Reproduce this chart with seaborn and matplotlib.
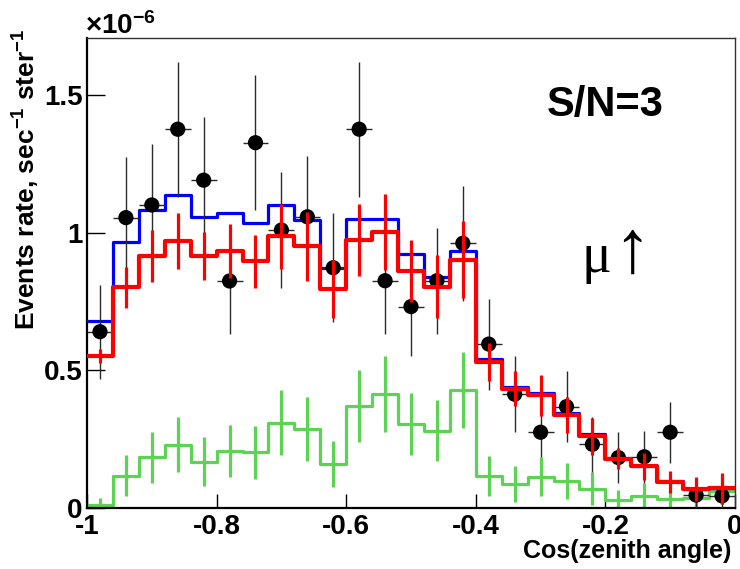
import numpy as np
import pandas as pd
import seaborn as sns
import matplotlib
matplotlib.use("Agg")
import matplotlib.pyplot as plt

# bins in cos(zenith), 25 bins of 0.04 from -1 to 0
bin_edges = [-1.0, -0.96, -0.92, -0.88, -0.84, -0.80, -0.76, -0.72, -0.68, -0.64,
             -0.60, -0.56, -0.52, -0.48, -0.44, -0.40, -0.36, -0.32, -0.28, -0.24,
             -0.20, -0.16, -0.12, -0.08, -0.04, 0.0]
bin_centers = [-0.98, -0.94, -0.90, -0.86, -0.82, -0.78, -0.74, -0.70, -0.66, -0.62,
               -0.58, -0.54, -0.50, -0.46, -0.42, -0.38, -0.34, -0.30, -0.26, -0.22,
               -0.18, -0.14, -0.10, -0.06, -0.02]

# event rates in units of 1e-6 sec^-1 ster^-1
data_rate = [0.64, 1.054, 1.10, 1.375, 1.19, 0.824, 1.326, 1.009, 1.057, 0.872,
             1.375, 0.825, 0.731, 0.825, 0.961, 0.595, 0.413, 0.275, 0.368, 0.231,
             0.183, 0.186, 0.275, 0.047, 0.044]
data_err = [0.17, 0.22, 0.22, 0.245, 0.23, 0.194, 0.245, 0.21, 0.22, 0.198,
            0.245, 0.194, 0.179, 0.193, 0.208, 0.165, 0.138, 0.09, 0.13, 0.10,
            0.094, 0.094, 0.111, 0.05, 0.05]

blue_rate = [0.679, 0.967, 1.081, 1.137, 1.056, 1.069, 1.033, 1.10, 1.047, 0.872,
             1.048, 1.048, 0.923, 0.838, 0.933, 0.541, 0.44, 0.419, 0.344, 0.268,
             0.181, 0.153, 0.098, 0.07, 0.072]

red_rate = [0.552, 0.801, 0.915, 0.970, 0.915, 0.934, 0.895, 0.987, 0.95, 0.795,
            0.973, 1.002, 0.86, 0.803, 0.902, 0.53, 0.433, 0.409, 0.338, 0.26,
            0.179, 0.151, 0.096, 0.069, 0.071]
red_err = [0.024, 0.074, 0.093, 0.101, 0.088, 0.098, 0.097, 0.118, 0.125, 0.105,
           0.13, 0.138, 0.113, 0.114, 0.139, 0.07, 0.064, 0.074, 0.065, 0.067,
           0.038, 0.048, 0.04, 0.045, 0.056]

green_rate = [0.011, 0.117, 0.184, 0.229, 0.168, 0.207, 0.202, 0.31, 0.286, 0.16,
              0.37, 0.414, 0.305, 0.281, 0.428, 0.117, 0.087, 0.114, 0.099, 0.07,
              0.028, 0.042, 0.032, 0.037, 0.063]
green_err = [0.025, 0.075, 0.093, 0.10, 0.088, 0.094, 0.097, 0.119, 0.116, 0.083,
             0.13, 0.138, 0.113, 0.111, 0.139, 0.073, 0.065, 0.07, 0.066, 0.06,
             0.036, 0.048, 0.03, 0.04, 0.05]

x_ticks = [-1.0, -0.8, -0.6, -0.4, -0.2, 0.0]
x_ticklabels = ["-1", "-0.8", "-0.6", "-0.4", "-0.2", "0"]
y_ticks = [0.0, 0.5, 1.0, 1.5]
y_ticklabels = ["0", "0.5", "1", "1.5"]

BLUE = "#0000ff"
RED = "#ff0000"
GREEN = "#5cd352"
GREY = "#2a2a2a"

df = pd.DataFrame({
    "cos": bin_centers,
    "data": data_rate, "data_err": data_err,
    "blue": blue_rate,
    "red": red_rate, "red_err": red_err,
    "green": green_rate, "green_err": green_err,
})

sns.set_theme(style="ticks")
plt.rcParams["font.family"] = ["Liberation Sans", "DejaVu Sans"]
plt.rcParams["font.weight"] = "bold"
plt.rcParams["text.color"] = "black"
plt.rcParams["axes.labelcolor"] = "black"
plt.rcParams["xtick.color"] = "black"
plt.rcParams["ytick.color"] = "black"
plt.rcParams["axes.unicode_minus"] = False
plt.rcParams["mathtext.fontset"] = "custom"
plt.rcParams["mathtext.rm"] = "Liberation Sans:bold"
plt.rcParams["mathtext.it"] = "Liberation Sans:bold"
plt.rcParams["mathtext.bf"] = "Liberation Sans:bold"

fig, ax = plt.subplots(figsize=(7.4, 5.69), dpi=100)
fig.subplots_adjust(left=0.1176, right=0.9932, bottom=0.1072, top=0.9332)

# green histogram with errors
sns.histplot(data=df, x="cos", weights="green", bins=bin_edges, element="step",
             fill=False, color=GREEN, linewidth=2.3, ax=ax, zorder=2)
ax.errorbar(df["cos"], df["green"], yerr=df["green_err"], fmt="none",
            ecolor=GREEN, elinewidth=2.3, capsize=0, zorder=2)

# blue histogram
sns.histplot(data=df, x="cos", weights="blue", bins=bin_edges, element="step",
             fill=False, color=BLUE, linewidth=2.3, ax=ax, zorder=3)

# data points
ax.errorbar(df["cos"], df["data"], xerr=0.02, yerr=df["data_err"], fmt="none",
            ecolor=GREY, elinewidth=1.0, capsize=0, zorder=4)
sns.scatterplot(data=df, x="cos", y="data", color="black", s=120,
                edgecolor="none", ax=ax, zorder=5)

# red histogram with errors
sns.histplot(data=df, x="cos", weights="red", bins=bin_edges, element="step",
             fill=False, color=RED, linewidth=3.0, ax=ax, zorder=6)
ax.errorbar(df["cos"], df["red"], yerr=df["red_err"], fmt="none",
            ecolor=RED, elinewidth=2.3, capsize=0, zorder=6)

ax.set_xlim(-1, 0)
ax.set_ylim(0, 1.706)
ax.set_xticks(x_ticks)
ax.set_xticklabels(x_ticklabels, fontsize=20, fontweight="bold")
ax.set_yticks(y_ticks)
ax.set_yticklabels(y_ticklabels, fontsize=20, fontweight="bold")
ax.tick_params(axis="x", direction="in", length=10, width=1, pad=4, color="black")
ax.tick_params(axis="y", direction="in", length=13, width=1, pad=3, color="black")
ax.minorticks_off()

for side in ["top", "right"]:
    ax.spines[side].set_visible(True)
    ax.spines[side].set_linewidth(1.0)
    ax.spines[side].set_color("#333333")
for side in ["left", "bottom"]:
    ax.spines[side].set_linewidth(1.6)
    ax.spines[side].set_color("black")

ax.set_xlabel("Cos(zenith angle)", fontsize=18, fontweight="bold", loc="right")
ax.xaxis.set_label_coords(0.994, -0.065)
ax.set_ylabel("Events rate, sec$^{-1}$ ster$^{-1}$", fontsize=19,
              fontweight="bold", loc="top")
ax.yaxis.set_label_coords(-0.07, 1.02)

fig.text(85 / 740, 1 - 34 / 569, r"$\times$10$^{-6}$", fontsize=20,
         fontweight="bold", ha="left", va="baseline")

ax.text(0.80, 0.858, "S/N=3", transform=ax.transAxes, fontsize=30,
        fontweight="bold", ha="center", va="center")
ax.text(0.786, 0.502, "\u03bc", transform=ax.transAxes, fontsize=40,
        fontweight="normal", ha="center", va="baseline",
        family=["Liberation Serif", "DejaVu Serif"])
ax.text(0.841, 0.502, "\u2191", transform=ax.transAxes, fontsize=54,
        fontweight="normal", ha="center", va="baseline",
        family=["Liberation Serif", "DejaVu Serif"])

fig.savefig("out.png", dpi=100)
